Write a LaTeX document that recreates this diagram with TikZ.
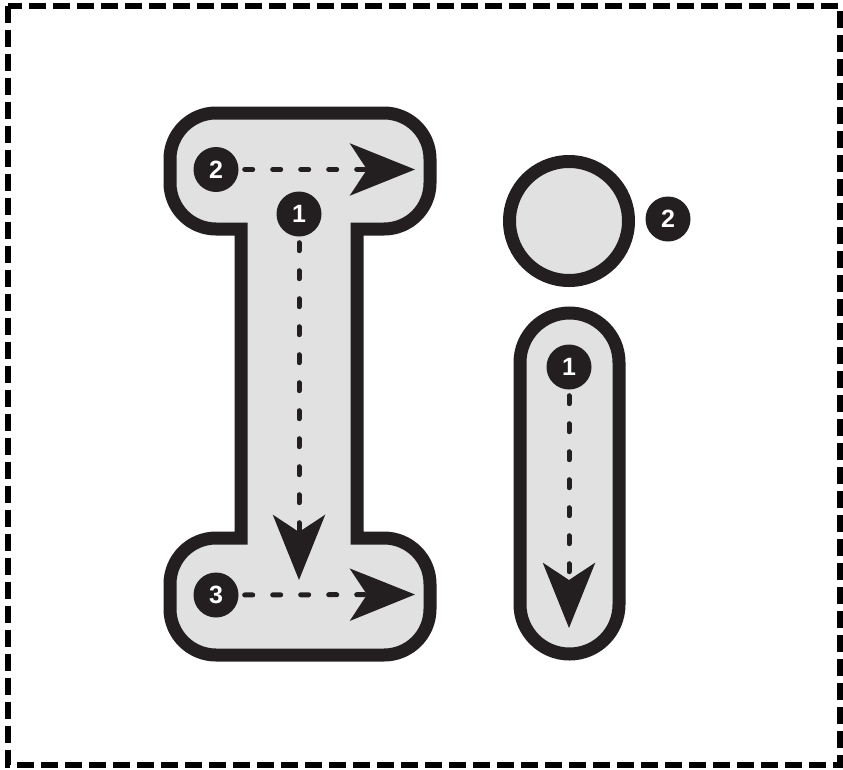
\documentclass[tikz,border=0pt]{standalone}
\usepackage{fontspec}
\setmainfont{Liberation Sans}
\usepackage{tikz}
\usetikzlibrary{positioning, arrows.meta, calc}
\definecolor{inkdark}{RGB}{35,31,32}
\definecolor{paper}{RGB}{225,225,225}

\begin{document}
\begin{tikzpicture}[x=1pt, y=1pt,
        letter/.style={draw=inkdark, fill=paper, line width=13pt, line join=miter},
        badge/.style={circle, fill=inkdark, text=white, minimum size=45pt, inner sep=0pt,
            font=\fontsize{25}{25}\selectfont\bfseries},
        guide/.style={draw=inkdark, line width=5pt, line cap=round, dash pattern=on 8pt off 20pt,
            shorten <=6pt, -{Stealth[length=65pt, width=52pt, inset=17pt]}},
        frame/.style={draw=black, line width=6pt, dash pattern=on 17pt off 7pt}]
      \useasboundingbox (0,0) rectangle (843,-769);
      \draw[frame] (8,-6) rectangle (840,-765);

      % capital I
      \draw[letter] (241,-229) -- (216,-229) arc[start angle=270, end angle=180, radius=46]
        -- (170,-159) arc[start angle=180, end angle=90, radius=46]
        -- (384,-113) arc[start angle=90, end angle=0, radius=46]
        -- (430,-183) arc[start angle=0, end angle=-90, radius=46]
        -- (357,-229) -- (357,-538) -- (384,-538) arc[start angle=90, end angle=0, radius=46]
        -- (430,-609) arc[start angle=0, end angle=-90, radius=46]
        -- (216,-655) arc[start angle=270, end angle=180, radius=46]
        -- (170,-584) arc[start angle=180, end angle=90, radius=46]
        -- (241,-538) -- cycle;

      % small i
      \draw[letter] (569,-221) circle[radius=59.5];
      \draw[letter, rounded corners=49.5pt] (520,-313) rectangle (619,-654);

      \node[badge] (topI) at (216,-169.5) {2};
      \node[badge] (stemI) at (299,-214) {1};
      \node[badge] (baseI) at (216,-595) {3};
      \node[badge] (doti) at (668,-219) {2};
      \node[badge] (stemi) at (569,-367) {1};

      \coordinate (topIend) at (415,-169.5);
      \coordinate (stemIend) at (299,-580);
      \coordinate (baseIend) at (415,-594.5);
      \coordinate (stemiend) at (569,-628);

      \draw[guide] (topI) -- (topIend);
      \draw[guide] (stemI) -- (stemIend);
      \draw[guide] (baseI) -- (baseIend);
      \draw[guide] (stemi) -- (stemiend);
    \end{tikzpicture}
\end{document}
